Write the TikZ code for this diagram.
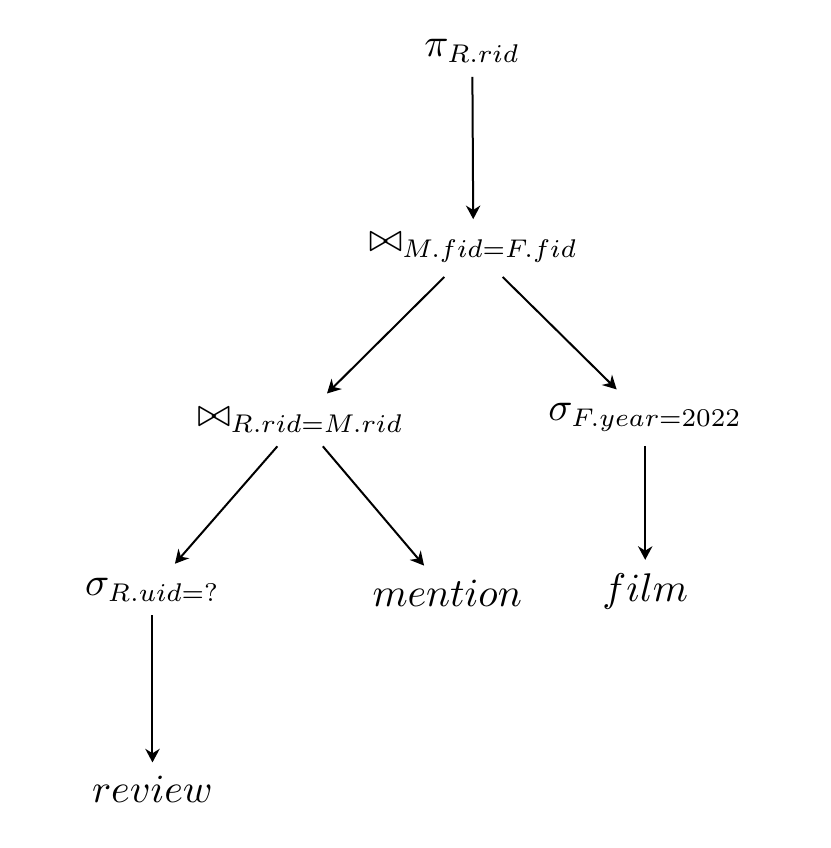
\RequirePackage{fix-cm}
\documentclass[tikz,border=0pt]{standalone}
\usepackage{amsmath}
\usepackage{amssymb}
\usetikzlibrary{arrows.meta}
\DeclareFontShape{OML}{cmm}{m}{it}{<-7.5>cmmi7 <7.5-8.5>cmmi8 <8.5-9.5>cmmi9 <9.5-11>cmmi10 <11->cmmi12}{}
\DeclareFontShape{OT1}{cmr}{m}{n}{<-7.5>cmr7 <7.5-8.5>cmr8 <8.5-9.5>cmr9 <9.5-11>cmr10 <11->cmr12}{}
\DeclareMathSizes{10}{10}{6.4}{5}
\tikzset{
  op/.style={inner sep=3.33pt},
  edge/.style={-{Stealth[length=3.4pt,width=3.6pt]}, line width=0.5pt}
}

\begin{document}
\begin{tikzpicture}
                \useasboundingbox (0,0) rectangle (7.294,-7.452);

                %root projection
                \node[op] (proj) at (4.15,-0.45) {$\pi_{R.rid}$};

                %joins
                \node[op] (joinF) at (4.16,-2.18) {$\bowtie_{M.fid=F.fid}$};
                \node[op] (joinM) at (2.64,-3.69) {$\bowtie_{R.rid=M.rid}$};

                %selections
                \node[op] (selYear) at (5.67,-3.67) {$\sigma_{F.year=2022}$};
                \node[op] (selUid) at (1.34,-5.18) {$\sigma_{R.uid=?}$};

                %relations
                \node[op] (mention) at (3.93,-5.21) {$mention$};
                \node[op] (film) at (5.67,-5.20) {$film$};
                \node[op] (review) at (1.34,-6.94) {$review$};

                %edges
                \draw[edge] (proj) -- (joinF);
                \draw[edge] (joinF) -- (joinM);
                \draw[edge] (joinF) -- (selYear);
                \draw[edge] (joinM) -- (selUid);
                \draw[edge] (joinM) -- (mention);
                \draw[edge] (selYear) -- (film);
                \draw[edge] (selUid) -- (review);
            \end{tikzpicture}
\end{document}
